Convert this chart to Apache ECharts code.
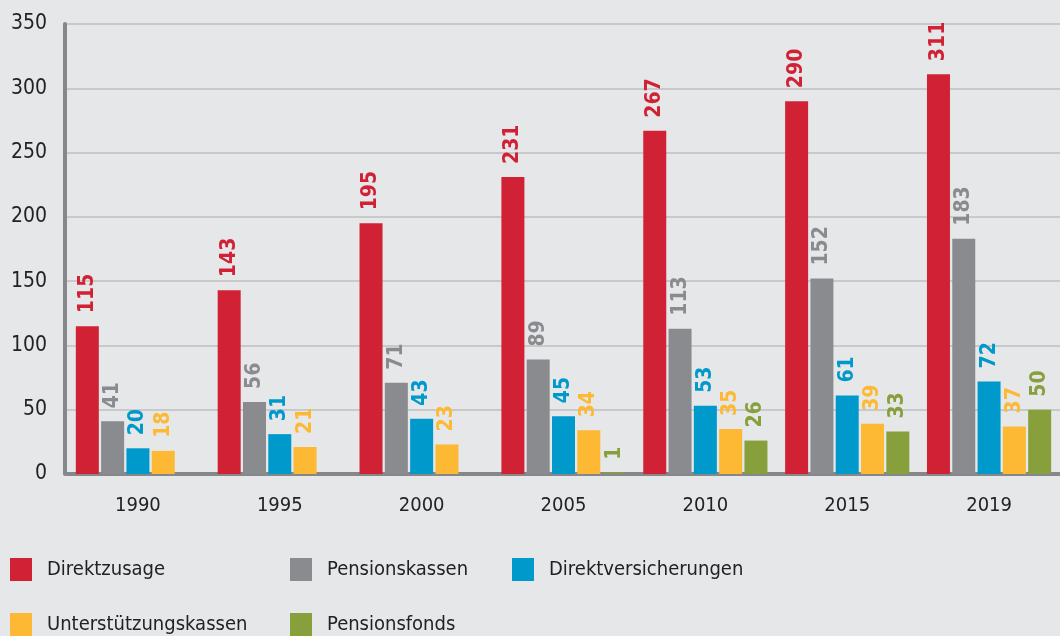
<!DOCTYPE html>
<html>
<head>
<meta charset="utf-8">
<script src="https://cdn.jsdelivr.net/npm/echarts@6/dist/echarts.min.js"></script>
<style>
  html, body { margin: 0; padding: 0; background: #e6e7e9; }
  #chart { width: 1060px; height: 636px; }
</style>
</head>
<body>
<div id="chart"></div>
<script>
var years = ['1990', '1995', '2000', '2005', '2010', '2015', '2019'];
var direktzusage = [115, 143, 195, 231, 267, 290, 311];
var pensionskassen = [41, 56, 71, 89, 113, 152, 183];
var direktversicherungen = [20, 31, 43, 45, 53, 61, 72];
var unterstuetzungskassen = [18, 21, 23, 34, 35, 39, 37];
var pensionsfonds = [null, null, null, 1, 26, 33, 50];
var yTicks = [0, 50, 100, 150, 200, 250, 300, 350];

var names = ['Direktzusage', 'Pensionskassen', 'Direktversicherungen', 'Unterstützungskassen', 'Pensionsfonds'];
var colors = ['#d12235', '#8a8b8f', '#0099cc', '#fdb933', '#88a03c'];
var values = [direktzusage, pensionskassen, direktversicherungen, unterstuetzungskassen, pensionsfonds];
// legend positions: two rows
var legendPos = [[10, 558], [290, 558], [512, 558], [10, 613], [290, 613]];

var font = "'DejaVu Sans Condensed', sans-serif";

var series = [];
var legends = [];
for (var i = 0; i < names.length; i++) {
    series.push({
        name: names[i],
        type: 'bar',
        barWidth: 23,
        barGap: '10%',
        itemStyle: { color: colors[i] },
        label: {
            show: true,
            position: 'top',
            rotate: 90,
            align: 'left',
            verticalAlign: 'middle',
            distance: 13,
            color: colors[i],
            fontFamily: font,
            fontWeight: 'bold',
            fontSize: 21
        },
        data: values[i]
    });
    legends.push({
        left: legendPos[i][0],
        top: legendPos[i][1],
        data: [names[i]],
        icon: 'rect',
        itemWidth: 22,
        itemHeight: 23,
        itemGap: 15,
        textStyle: { fontFamily: font, fontSize: 20, color: '#222', padding: [0, 0, 0, 10] },
        padding: 0
    });
}

var myChart = echarts.init(document.getElementById('chart'));
var option = {
    backgroundColor: '#e6e7e9',
    animation: false,
    legend: legends,
    grid: { left: 67, right: -5, top: 24, bottom: 162 },
    xAxis: {
        type: 'category',
        data: years,
        axisLine: { lineStyle: { color: '#86878a', width: 4 } },
        axisTick: { show: false },
        axisLabel: { color: '#222', fontSize: 20, fontFamily: font, margin: 22 }
    },
    yAxis: {
        type: 'value',
        min: yTicks[0],
        max: yTicks[yTicks.length - 1],
        interval: 50,
        offset: 2,
        axisLine: { show: true, lineStyle: { color: '#86878a', width: 4 } },
        axisTick: { show: false },
        splitLine: { lineStyle: { color: '#c8c9cb', width: 2 } },
        axisLabel: { color: '#222', fontSize: 21, fontFamily: font, margin: 18 }
    },
    series: series
};
myChart.setOption(option);
</script>
</body>
</html>
